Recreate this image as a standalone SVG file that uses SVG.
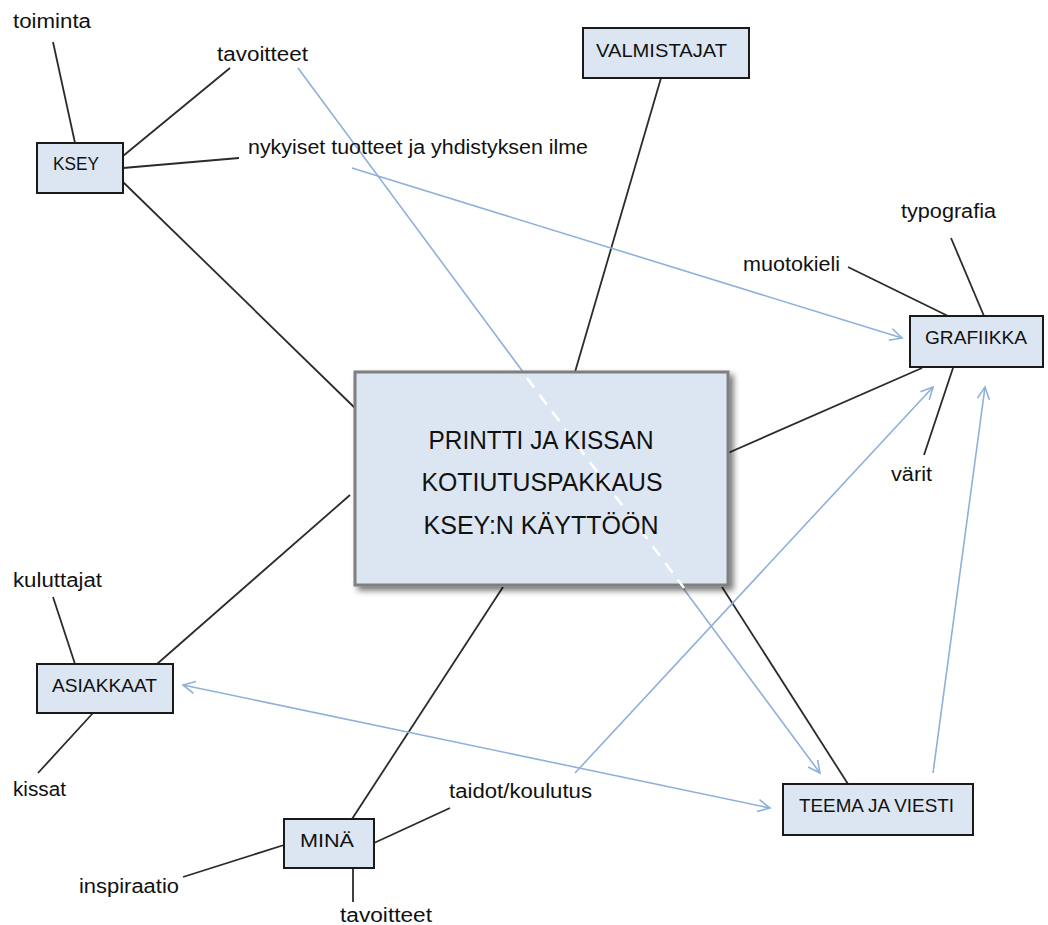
<svg xmlns="http://www.w3.org/2000/svg" width="1048" height="925" viewBox="0 0 1048 925">
<style>
.bg{fill:#ffffff}
.box{fill:#dce6f2;stroke:#1a1a1a;stroke-width:2}
.main{fill:#dce6f2;stroke:#7f7f7f;stroke-width:3}
.lbl{font-family:"Liberation Sans",Arial,sans-serif;font-size:20px;fill:#111}
.cap{font-family:"Liberation Sans",Arial,sans-serif;font-size:19px;fill:#111}
.big{font-family:"Liberation Sans",Arial,sans-serif;font-size:26px;fill:#111;text-anchor:middle}
.k{stroke:#2b2b2b;stroke-width:1.8;fill:none}
.b{stroke:#8fb0da;stroke-width:1.6;fill:none}
.dash{stroke:#ffffff;stroke-width:2.6;stroke-dasharray:12 9;fill:none}
</style>
<defs>
<marker id="ah" markerUnits="userSpaceOnUse" markerWidth="16" markerHeight="16" refX="13" refY="7" orient="auto-start-reverse" viewBox="0 0 16 14">
<path d="M1,1 L13,7 L1,13" fill="none" stroke="#8fb0da" stroke-width="1.6"/>
</marker>
<filter id="sh" x="-10%" y="-10%" width="125%" height="125%">
<feGaussianBlur in="SourceAlpha" stdDeviation="3"/>
<feOffset dx="4" dy="4" result="o"/>
<feComponentTransfer><feFuncA type="linear" slope="0.55"/></feComponentTransfer>
<feMerge><feMergeNode/><feMergeNode in="SourceGraphic"/></feMerge>
</filter>
</defs>
<rect class="bg" x="0" y="0" width="1048" height="925"/>

<g id="connectors">
<line class="k" x1="53" y1="42" x2="75" y2="143"/>
<line class="k" x1="123" y1="156" x2="230" y2="68"/>
<line class="k" x1="123" y1="168" x2="239" y2="158"/>
<line class="k" x1="123" y1="182" x2="357" y2="410"/>
<line class="k" x1="661" y1="78" x2="575" y2="372"/>
<line class="k" x1="728" y1="453" x2="922" y2="368"/>
<line class="k" x1="848" y1="267" x2="948" y2="316"/>
<line class="k" x1="951" y1="238" x2="984" y2="316"/>
<line class="k" x1="924" y1="455" x2="953" y2="368"/>
<line class="k" x1="722" y1="587" x2="848" y2="784"/>
<line class="k" x1="157" y1="664" x2="350" y2="495"/>
<line class="k" x1="53" y1="597" x2="75" y2="664"/>
<line class="k" x1="38" y1="773" x2="93" y2="713"/>
<line class="k" x1="503" y1="587" x2="352" y2="819"/>
<line class="k" x1="374" y1="843" x2="450" y2="808"/>
<line class="k" x1="284" y1="845" x2="183" y2="877"/>
<line class="k" x1="353" y1="868" x2="353" y2="902"/>
<line class="b" x1="298" y1="68" x2="820" y2="773" marker-end="url(#ah)"/>
<line class="b" x1="352" y1="168" x2="902" y2="338" marker-end="url(#ah)"/>
<line class="b" x1="575" y1="773" x2="933" y2="387" marker-end="url(#ah)"/>
<line class="b" x1="933" y1="773" x2="985" y2="387" marker-end="url(#ah)"/>
<line class="b" x1="183" y1="685" x2="770" y2="808" marker-start="url(#ah)" marker-end="url(#ah)"/>
</g>

<g id="center">
<rect class="main" x="355" y="372" width="373" height="213" filter="url(#sh)"/>
<line class="dash" x1="527" y1="378" x2="684" y2="588"/>
<text class="big" x="541" y="449" textLength="225" lengthAdjust="spacingAndGlyphs">PRINTTI JA KISSAN</text>
<text class="big" x="542" y="491" textLength="241" lengthAdjust="spacingAndGlyphs">KOTIUTUSPAKKAUS</text>
<text class="big" x="541" y="534" textLength="235" lengthAdjust="spacingAndGlyphs">KSEY:N KÄYTTÖÖN</text>
</g>

<g id="ksey">
<rect class="box" x="37" y="143" width="86" height="50"/>
<text class="cap" x="53" y="170" textLength="46" lengthAdjust="spacingAndGlyphs">KSEY</text>
</g>
<g id="valmistajat">
<rect class="box" x="583" y="28" width="166" height="50"/>
<text class="cap" x="596" y="57" textLength="131" lengthAdjust="spacingAndGlyphs">VALMISTAJAT</text>
</g>
<g id="grafiikka">
<rect class="box" x="910" y="316" width="133" height="51"/>
<text class="cap" x="925" y="344" textLength="102" lengthAdjust="spacingAndGlyphs">GRAFIIKKA</text>
</g>
<g id="asiakkaat">
<rect class="box" x="37" y="664" width="136" height="49"/>
<text class="cap" x="52" y="692" textLength="105" lengthAdjust="spacingAndGlyphs">ASIAKKAAT</text>
</g>
<g id="mina">
<rect class="box" x="284" y="819" width="90" height="49"/>
<text class="cap" x="300" y="847" textLength="54" lengthAdjust="spacingAndGlyphs">MINÄ</text>
</g>
<g id="teema">
<rect class="box" x="783" y="784" width="190" height="51"/>
<text class="cap" x="799" y="812" textLength="155" lengthAdjust="spacingAndGlyphs">TEEMA JA VIESTI</text>
</g>

<g id="labels">
<text class="lbl" x="13" y="28" textLength="78" lengthAdjust="spacingAndGlyphs">toiminta</text>
<text class="lbl" x="217" y="61" textLength="91" lengthAdjust="spacingAndGlyphs">tavoitteet</text>
<text class="lbl" x="248" y="154" textLength="340" lengthAdjust="spacingAndGlyphs">nykyiset tuotteet ja yhdistyksen ilme</text>
<text class="lbl" x="901" y="218" textLength="95" lengthAdjust="spacingAndGlyphs">typografia</text>
<text class="lbl" x="743" y="271" textLength="97" lengthAdjust="spacingAndGlyphs">muotokieli</text>
<text class="lbl" x="891" y="481" textLength="41" lengthAdjust="spacingAndGlyphs">värit</text>
<text class="lbl" x="13" y="587" textLength="89" lengthAdjust="spacingAndGlyphs">kuluttajat</text>
<text class="lbl" x="13" y="796" textLength="53" lengthAdjust="spacingAndGlyphs">kissat</text>
<text class="lbl" x="449" y="798" textLength="143" lengthAdjust="spacingAndGlyphs">taidot/koulutus</text>
<text class="lbl" x="79" y="893" textLength="100" lengthAdjust="spacingAndGlyphs">inspiraatio</text>
<text class="lbl" x="340" y="922" textLength="92" lengthAdjust="spacingAndGlyphs">tavoitteet</text>
</g>
</svg>
